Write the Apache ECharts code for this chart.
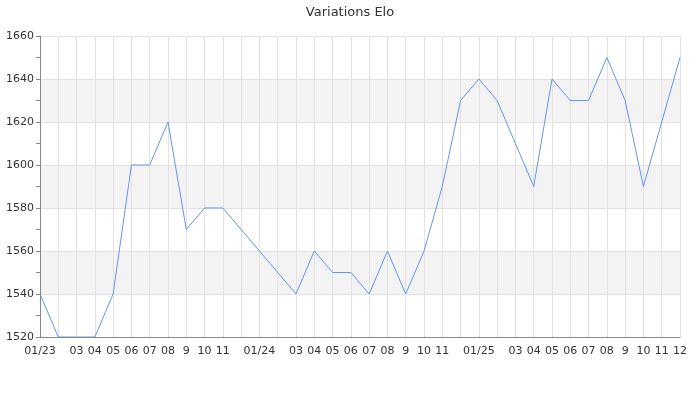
<!DOCTYPE html>
<html><head><meta charset="utf-8">
<script src="https://cdn.jsdelivr.net/npm/echarts@6/dist/echarts.min.js"></script>
<style>html,body{margin:0;padding:0;background:#fff}#c{width:700px;height:400px}</style>
</head><body><div id="c"></div>
<script>
const categories = ['01/23','02/23','03/23','04/23','05/23','06/23','07/23','08/23','09/23','10/23','11/23','12/23',
  '01/24','02/24','03/24','04/24','05/24','06/24','07/24','08/24','09/24','10/24','11/24','12/24',
  '01/25','02/25','03/25','04/25','05/25','06/25','07/25','08/25','09/25','10/25','11/25','12/25'];
const tickLabels = ['01/23','','03','04','05','06','07','08','9','10','11','',
  '01/24','','03','04','05','06','07','08','9','10','11','',
  '01/25','','03','04','05','06','07','08','9','10','11','12'];
const elo = [1540,1520,1520,1520,1540,1600,1600,1620,1570,1580,1580,1570,
  1560,1550,1540,1560,1550,1550,1540,1560,1540,1560,1590,1630,
  1640,1630,1610,1590,1640,1630,1630,1650,1630,1590,1620,1650];
const chart = echarts.init(document.getElementById('c'), null, {renderer:'canvas'});
const font = 'DejaVu Sans';
chart.setOption({
  animation:false,
  title:{text:'Variations Elo',left:'center',top:1,textStyle:{fontFamily:font,fontSize:13,fontWeight:'normal',color:'#333'}},
  grid:{left:40,right:20,top:36,bottom:63,containLabel:false},
  xAxis:{type:'category',data:categories,boundaryGap:false,
    axisLine:{lineStyle:{color:'#888'}},axisTick:{show:false},
    axisLabel:{interval:0,hideOverlap:false,fontFamily:font,fontSize:11,color:'#333',margin:9,
      formatter:(v,i)=>tickLabels[i]},
    splitLine:{show:true,interval:0,lineStyle:{color:'#e2e2e2'}}},
  yAxis:{type:'value',min:1520,max:1660,interval:20,
    axisLine:{show:true,lineStyle:{color:'#888'}},
    axisTick:{show:true,length:4,lineStyle:{color:'#888'}},
    minorTick:{show:true,splitNumber:2,length:4,lineStyle:{color:'#888'}},
    axisLabel:{fontFamily:font,fontSize:11,color:'#333',margin:6,formatter:v=>String(v)},
    splitLine:{show:true,lineStyle:{color:'#e2e2e2'}},
    splitArea:{show:true,areaStyle:{color:['#ffffff','#f3f3f3']}}},
  series:[{type:'line',data:elo,showSymbol:false,symbol:'none',
    lineStyle:{color:'#6495ed',width:1},itemStyle:{color:'#6495ed'}}]
});
</script></body></html>
